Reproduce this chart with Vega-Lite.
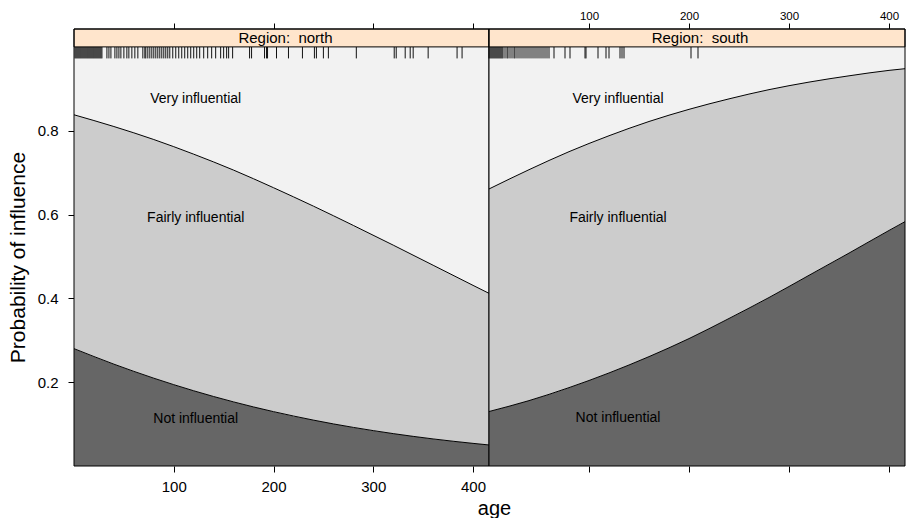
{
  "$schema": "https://vega.github.io/schema/vega-lite/v6.json",
  "background": "white",
  "padding": {"left": 7, "top": 10, "right": 0, "bottom": 0},
  "spacing": 0,
  "bounds": "flush",
  "config": {
    "font": "Liberation Sans",
    "view": {"stroke": null},
    "axis": {"grid": false, "domain": false, "tickColor": "#000", "tickSize": 6, "labelFontSize": 15, "labelColor": "#000", "titleFontSize": 20, "titleFontWeight": "normal", "titleColor": "#000", "labelFont": "Liberation Sans", "titleFont": "Liberation Sans"}
  },
  "datasets": {
    "curves": [
      {"region": "north", "age": 0, "upto_not": 0.280, "upto_fairly": 0.838},
      {"region": "north", "age": 40, "upto_not": 0.243, "upto_fairly": 0.810},
      {"region": "north", "age": 80, "upto_not": 0.2095, "upto_fairly": 0.779},
      {"region": "north", "age": 120, "upto_not": 0.1795, "upto_fairly": 0.744},
      {"region": "north", "age": 160, "upto_not": 0.1529, "upto_fairly": 0.706},
      {"region": "north", "age": 200, "upto_not": 0.1297, "upto_fairly": 0.664},
      {"region": "north", "age": 240, "upto_not": 0.1095, "upto_fairly": 0.620},
      {"region": "north", "age": 280, "upto_not": 0.0921, "upto_fairly": 0.574},
      {"region": "north", "age": 320, "upto_not": 0.0773, "upto_fairly": 0.527},
      {"region": "north", "age": 360, "upto_not": 0.0646, "upto_fairly": 0.479},
      {"region": "north", "age": 400, "upto_not": 0.0540, "upto_fairly": 0.431},
      {"region": "north", "age": 416, "upto_not": 0.0502, "upto_fairly": 0.412},
      {"region": "south", "age": 0, "upto_not": 0.130, "upto_fairly": 0.661},
      {"region": "south", "age": 40, "upto_not": 0.156, "upto_fairly": 0.707},
      {"region": "south", "age": 80, "upto_not": 0.187, "upto_fairly": 0.750},
      {"region": "south", "age": 120, "upto_not": 0.222, "upto_fairly": 0.788},
      {"region": "south", "age": 160, "upto_not": 0.261, "upto_fairly": 0.822},
      {"region": "south", "age": 200, "upto_not": 0.304, "upto_fairly": 0.851},
      {"region": "south", "age": 240, "upto_not": 0.352, "upto_fairly": 0.876},
      {"region": "south", "age": 280, "upto_not": 0.402, "upto_fairly": 0.898},
      {"region": "south", "age": 320, "upto_not": 0.455, "upto_fairly": 0.916},
      {"region": "south", "age": 360, "upto_not": 0.508, "upto_fairly": 0.931},
      {"region": "south", "age": 400, "upto_not": 0.562, "upto_fairly": 0.944},
      {"region": "south", "age": 416, "upto_not": 0.583, "upto_fairly": 0.948}
    ],
    "rug": [
      {"region": "north", "age": 1}, {"region": "north", "age": 2}, {"region": "north", "age": 3}, {"region": "north", "age": 4}, {"region": "north", "age": 5}, {"region": "north", "age": 6}, {"region": "north", "age": 7}, {"region": "north", "age": 8}, {"region": "north", "age": 9}, {"region": "north", "age": 10}, {"region": "north", "age": 11}, {"region": "north", "age": 12}, {"region": "north", "age": 13}, {"region": "north", "age": 14}, {"region": "north", "age": 15}, {"region": "north", "age": 16}, {"region": "north", "age": 17}, {"region": "north", "age": 18}, {"region": "north", "age": 19}, {"region": "north", "age": 20}, {"region": "north", "age": 21}, {"region": "north", "age": 22}, {"region": "north", "age": 23}, {"region": "north", "age": 24}, {"region": "north", "age": 25}, {"region": "north", "age": 26}, {"region": "north", "age": 27}, {"region": "north", "age": 28},
      {"region": "north", "age": 33}, {"region": "north", "age": 35}, {"region": "north", "age": 37},
      {"region": "north", "age": 41}, {"region": "north", "age": 43}, {"region": "north", "age": 45}, {"region": "north", "age": 47}, {"region": "north", "age": 50}, {"region": "north", "age": 53}, {"region": "north", "age": 55}, {"region": "north", "age": 58}, {"region": "north", "age": 61}, {"region": "north", "age": 64},
      {"region": "north", "age": 69}, {"region": "north", "age": 71}, {"region": "north", "age": 72}, {"region": "north", "age": 74}, {"region": "north", "age": 76}, {"region": "north", "age": 78}, {"region": "north", "age": 80}, {"region": "north", "age": 82}, {"region": "north", "age": 84}, {"region": "north", "age": 86}, {"region": "north", "age": 88}, {"region": "north", "age": 90}, {"region": "north", "age": 92}, {"region": "north", "age": 94}, {"region": "north", "age": 96},
      {"region": "north", "age": 99}, {"region": "north", "age": 102}, {"region": "north", "age": 105}, {"region": "north", "age": 108}, {"region": "north", "age": 111}, {"region": "north", "age": 114}, {"region": "north", "age": 117}, {"region": "north", "age": 120}, {"region": "north", "age": 123},
      {"region": "north", "age": 126}, {"region": "north", "age": 130}, {"region": "north", "age": 134}, {"region": "north", "age": 138}, {"region": "north", "age": 142},
      {"region": "north", "age": 147}, {"region": "north", "age": 150}, {"region": "north", "age": 153}, {"region": "north", "age": 155}, {"region": "north", "age": 159},
      {"region": "north", "age": 176}, {"region": "north", "age": 178}, {"region": "north", "age": 191}, {"region": "north", "age": 193}, {"region": "north", "age": 194}, {"region": "north", "age": 203}, {"region": "north", "age": 215}, {"region": "north", "age": 229}, {"region": "north", "age": 241}, {"region": "north", "age": 243}, {"region": "north", "age": 250}, {"region": "north", "age": 255}, {"region": "north", "age": 283}, {"region": "north", "age": 321}, {"region": "north", "age": 323}, {"region": "north", "age": 332}, {"region": "north", "age": 337}, {"region": "north", "age": 340}, {"region": "north", "age": 355}, {"region": "north", "age": 384}, {"region": "north", "age": 389},
      {"region": "south", "age": 0}, {"region": "south", "age": 1}, {"region": "south", "age": 2}, {"region": "south", "age": 3}, {"region": "south", "age": 4}, {"region": "south", "age": 5}, {"region": "south", "age": 6}, {"region": "south", "age": 7}, {"region": "south", "age": 8}, {"region": "south", "age": 9}, {"region": "south", "age": 10}, {"region": "south", "age": 11}, {"region": "south", "age": 12}, {"region": "south", "age": 13}, {"region": "south", "age": 14}, {"region": "south", "age": 16}, {"region": "south", "age": 18}, {"region": "south", "age": 19}, {"region": "south", "age": 21}, {"region": "south", "age": 23}, {"region": "south", "age": 25}, {"region": "south", "age": 26}, {"region": "south", "age": 28}, {"region": "south", "age": 30}, {"region": "south", "age": 32}, {"region": "south", "age": 34}, {"region": "south", "age": 36}, {"region": "south", "age": 38}, {"region": "south", "age": 40}, {"region": "south", "age": 42}, {"region": "south", "age": 44}, {"region": "south", "age": 46}, {"region": "south", "age": 48}, {"region": "south", "age": 50}, {"region": "south", "age": 52}, {"region": "south", "age": 54}, {"region": "south", "age": 56}, {"region": "south", "age": 58}, {"region": "south", "age": 60},
      {"region": "south", "age": 65}, {"region": "south", "age": 76}, {"region": "south", "age": 81}, {"region": "south", "age": 96}, {"region": "south", "age": 97}, {"region": "south", "age": 109}, {"region": "south", "age": 117}, {"region": "south", "age": 120}, {"region": "south", "age": 131}, {"region": "south", "age": 133}, {"region": "south", "age": 135}, {"region": "south", "age": 202}, {"region": "south", "age": 209}
    ],
    "labels": [
      {"region": "north", "label": "Very influential", "age": 122, "p": 0.876},
      {"region": "north", "label": "Fairly influential", "age": 122, "p": 0.592},
      {"region": "north", "label": "Not influential", "age": 122, "p": 0.113},
      {"region": "south", "label": "Very influential", "age": 129, "p": 0.876},
      {"region": "south", "label": "Fairly influential", "age": 129, "p": 0.592},
      {"region": "south", "label": "Not influential", "age": 129, "p": 0.115}
    ],
    "strips": [
      {"region": "north", "strip": "Region:\u00a0 north"},
      {"region": "south", "strip": "Region:\u00a0 south"}
    ]
  },
  "hconcat": [
    {
      "width": 415,
      "height": 437,
      "resolve": {"axis": {"x": "independent", "y": "independent"}},
      "layer": [
        {
          "data": {"name": "curves"},
          "transform": [{"filter": "datum.region === 'north'"}],
          "mark": {"type": "area", "color": "#666666", "interpolate": "monotone"},
          "encoding": {
            "x": {"field": "age", "type": "quantitative", "scale": {"domain": [0, 416], "nice": false, "zero": false}, "axis": {"orient": "bottom", "values": [100, 200, 300, 400], "labelPadding": 7, "title": "age", "titleX": 420, "titlePadding": 4}},
            "y": {"field": "upto_not", "type": "quantitative", "scale": {"domain": [0, 1.0427], "nice": false, "zero": true}, "axis": {"orient": "left", "values": [0.2, 0.4, 0.6, 0.8], "labelPadding": 10, "title": "Probability of influence", "titleFontSize": 21, "titleY": 228, "titlePadding": 9}}
          }
        },
        {
          "data": {"name": "curves"},
          "transform": [{"filter": "datum.region === 'north'"}],
          "mark": {"type": "area", "color": "#CCCCCC", "interpolate": "monotone"},
          "encoding": {
            "x": {"field": "age", "type": "quantitative", "axis": null},
            "y": {"field": "upto_not", "type": "quantitative", "axis": null},
            "y2": {"field": "upto_fairly"}
          }
        },
        {
          "data": {"name": "curves"},
          "transform": [{"filter": "datum.region === 'north'"}],
          "mark": {"type": "area", "color": "#F2F2F2", "interpolate": "monotone"},
          "encoding": {
            "x": {"field": "age", "type": "quantitative", "axis": null},
            "y": {"field": "upto_fairly", "type": "quantitative", "axis": null},
            "y2": {"datum": 1}
          }
        },
        {
          "data": {"name": "curves"},
          "transform": [{"filter": "datum.region === 'north'"}],
          "mark": {"type": "line", "color": "#000", "strokeWidth": 1, "interpolate": "monotone"},
          "encoding": {
            "x": {"field": "age", "type": "quantitative", "axis": null},
            "y": {"field": "upto_not", "type": "quantitative", "axis": null}
          }
        },
        {
          "data": {"name": "curves"},
          "transform": [{"filter": "datum.region === 'north'"}],
          "mark": {"type": "line", "color": "#000", "strokeWidth": 1, "interpolate": "monotone"},
          "encoding": {
            "x": {"field": "age", "type": "quantitative", "axis": null},
            "y": {"field": "upto_fairly", "type": "quantitative", "axis": null}
          }
        },
        {
          "data": {"name": "rug"},
          "transform": [{"filter": "datum.region === 'north'"}],
          "mark": {"type": "rule", "color": "#111", "strokeWidth": 1},
          "encoding": {
            "x": {"field": "age", "type": "quantitative", "axis": {"orient": "top", "values": [100, 200, 300, 400], "labels": false, "title": null, "tickSize": 6}},
            "y": {"datum": 1, "type": "quantitative", "axis": null},
            "y2": {"datum": 0.9725}
          }
        },
        {
          "data": {"name": "strips"},
          "transform": [{"filter": "datum.region === 'north'"}],
          "mark": {"type": "rect", "fill": "#FFE5CC", "stroke": "#000", "strokeWidth": 1},
          "encoding": {
            "x": {"datum": 0, "type": "quantitative", "axis": null},
            "x2": {"datum": 416},
            "y": {"datum": 1, "type": "quantitative", "axis": null},
            "y2": {"datum": 1.0427}
          }
        },
        {
          "data": {"name": "strips"},
          "transform": [{"filter": "datum.region === 'north'"}],
          "mark": {"type": "text", "fontSize": 15, "color": "#000", "baseline": "middle", "align": "center"},
          "encoding": {
            "x": {"datum": 212, "type": "quantitative", "axis": null},
            "y": {"datum": 1.0224, "type": "quantitative", "axis": null},
            "text": {"field": "strip"}
          }
        },
        {
          "data": {"name": "labels"},
          "transform": [{"filter": "datum.region === 'north'"}],
          "mark": {"type": "text", "fontSize": 14, "color": "#000", "baseline": "middle", "align": "center"},
          "encoding": {
            "x": {"field": "age", "type": "quantitative", "axis": null},
            "y": {"field": "p", "type": "quantitative", "axis": null},
            "text": {"field": "label"}
          }
        },
        {
          "data": {"name": "strips"},
          "transform": [{"filter": "datum.region === 'north'"}],
          "mark": {"type": "rect", "fill": null, "fillOpacity": 0, "stroke": "#000", "strokeWidth": 1},
          "encoding": {
            "x": {"datum": 0, "type": "quantitative", "axis": null},
            "x2": {"datum": 416},
            "y": {"datum": 0, "type": "quantitative", "axis": null},
            "y2": {"datum": 1.0427}
          }
        }
      ]
    },
    {
      "width": 416,
      "height": 437,
      "resolve": {"axis": {"x": "independent", "y": "independent"}},
      "layer": [
        {
          "data": {"name": "curves"},
          "transform": [{"filter": "datum.region === 'south'"}],
          "mark": {"type": "area", "color": "#666666", "interpolate": "monotone"},
          "encoding": {
            "x": {"field": "age", "type": "quantitative", "scale": {"domain": [0, 416], "nice": false, "zero": false}, "axis": {"orient": "bottom", "values": [100, 200, 300, 400], "labels": false, "title": null}},
            "y": {"field": "upto_not", "type": "quantitative", "scale": {"domain": [0, 1.0427], "nice": false, "zero": true}, "axis": null}
          }
        },
        {
          "data": {"name": "curves"},
          "transform": [{"filter": "datum.region === 'south'"}],
          "mark": {"type": "area", "color": "#CCCCCC", "interpolate": "monotone"},
          "encoding": {
            "x": {"field": "age", "type": "quantitative", "axis": null},
            "y": {"field": "upto_not", "type": "quantitative", "axis": null},
            "y2": {"field": "upto_fairly"}
          }
        },
        {
          "data": {"name": "curves"},
          "transform": [{"filter": "datum.region === 'south'"}],
          "mark": {"type": "area", "color": "#F2F2F2", "interpolate": "monotone"},
          "encoding": {
            "x": {"field": "age", "type": "quantitative", "axis": null},
            "y": {"field": "upto_fairly", "type": "quantitative", "axis": null},
            "y2": {"datum": 1}
          }
        },
        {
          "data": {"name": "curves"},
          "transform": [{"filter": "datum.region === 'south'"}],
          "mark": {"type": "line", "color": "#000", "strokeWidth": 1, "interpolate": "monotone"},
          "encoding": {
            "x": {"field": "age", "type": "quantitative", "axis": null},
            "y": {"field": "upto_not", "type": "quantitative", "axis": null}
          }
        },
        {
          "data": {"name": "curves"},
          "transform": [{"filter": "datum.region === 'south'"}],
          "mark": {"type": "line", "color": "#000", "strokeWidth": 1, "interpolate": "monotone"},
          "encoding": {
            "x": {"field": "age", "type": "quantitative", "axis": null},
            "y": {"field": "upto_fairly", "type": "quantitative", "axis": null}
          }
        },
        {
          "data": {"name": "rug"},
          "transform": [{"filter": "datum.region === 'south'"}],
          "mark": {"type": "rule", "color": "#111", "strokeWidth": 1},
          "encoding": {
            "x": {"field": "age", "type": "quantitative", "axis": {"orient": "top", "values": [100, 200, 300, 400], "labels": true, "labelFontSize": 11.5, "labelPadding": 2, "title": null, "tickSize": 6}},
            "y": {"datum": 1, "type": "quantitative", "axis": null},
            "y2": {"datum": 0.9725}
          }
        },
        {
          "data": {"name": "strips"},
          "transform": [{"filter": "datum.region === 'south'"}],
          "mark": {"type": "rect", "fill": "#FFE5CC", "stroke": "#000", "strokeWidth": 1},
          "encoding": {
            "x": {"datum": 0, "type": "quantitative", "axis": null},
            "x2": {"datum": 416},
            "y": {"datum": 1, "type": "quantitative", "axis": null},
            "y2": {"datum": 1.0427}
          }
        },
        {
          "data": {"name": "strips"},
          "transform": [{"filter": "datum.region === 'south'"}],
          "mark": {"type": "text", "fontSize": 15, "color": "#000", "baseline": "middle", "align": "center"},
          "encoding": {
            "x": {"datum": 211, "type": "quantitative", "axis": null},
            "y": {"datum": 1.0224, "type": "quantitative", "axis": null},
            "text": {"field": "strip"}
          }
        },
        {
          "data": {"name": "labels"},
          "transform": [{"filter": "datum.region === 'south'"}],
          "mark": {"type": "text", "fontSize": 14, "color": "#000", "baseline": "middle", "align": "center"},
          "encoding": {
            "x": {"field": "age", "type": "quantitative", "axis": null},
            "y": {"field": "p", "type": "quantitative", "axis": null},
            "text": {"field": "label"}
          }
        },
        {
          "data": {"name": "strips"},
          "transform": [{"filter": "datum.region === 'south'"}],
          "mark": {"type": "rect", "fill": null, "fillOpacity": 0, "stroke": "#000", "strokeWidth": 1},
          "encoding": {
            "x": {"datum": 0, "type": "quantitative", "axis": null},
            "x2": {"datum": 416},
            "y": {"datum": 0, "type": "quantitative", "axis": null},
            "y2": {"datum": 1.0427}
          }
        }
      ]
    }
  ]
}
